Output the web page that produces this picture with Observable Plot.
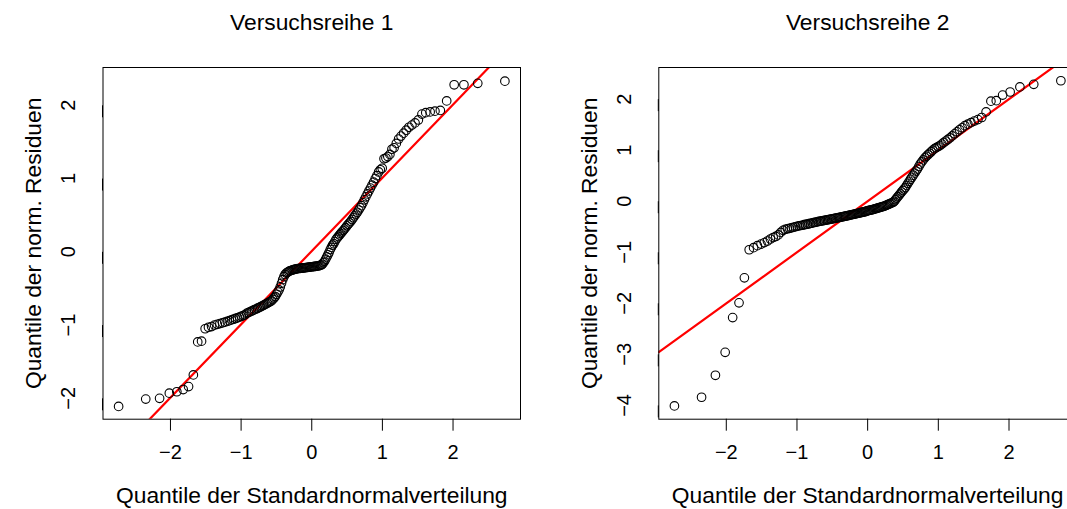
<!DOCTYPE html>
<html>
<head>
<meta charset="utf-8">
<script src="https://cdn.jsdelivr.net/npm/d3@7"></script>
<script src="https://cdn.jsdelivr.net/npm/@observablehq/plot@0.6"></script>
<style>
  html, body { margin: 0; padding: 0; background: #fff; overflow: hidden; }
  #wrap { position: relative; width: 1067px; height: 509px; overflow: hidden; }
  #p1, #p2 { position: absolute; top: 0; }
  #p1 { left: 0; width: 534px; }
  #p2 { left: 544px; width: 546px; }
  svg { max-width: none !important; font-family: "Liberation Sans", Arial, Helvetica, sans-serif; }
</style>
</head>
<body>
<div id="wrap"><div id="p1"></div><div id="p2"></div></div>
<script>
// Panel titles and axis labels
const panelTitles = ["Versuchsreihe 1", "Versuchsreihe 2"];
const xAxisLabel = "Quantile der Standardnormalverteilung";
const yAxisLabel = "Quantile der norm. Residuen";
const tickValues = [-2, -1, 0, 1, 2];
const yTicks2 = [-4, -3, -2, -1, 0, 1, 2];

// Theoretical normal quantiles for n = 160 (lower half; upper half is symmetric)
const theoreticalLower = [
  -2.734, -2.350, -2.154, -2.016, -1.910, -1.820, -1.744, -1.676, -1.614, -1.560,
  -1.509, -1.462, -1.418, -1.376, -1.337, -1.300, -1.264, -1.230, -1.197, -1.166,
  -1.135, -1.106, -1.077, -1.050, -1.023, -0.997, -0.971, -0.947, -0.922, -0.899,
  -0.876, -0.853, -0.831, -0.809, -0.787, -0.766, -0.745, -0.725, -0.704, -0.684,
  -0.665, -0.645, -0.626, -0.607, -0.589, -0.570, -0.552, -0.534, -0.516, -0.498,
  -0.480, -0.463, -0.446, -0.428, -0.411, -0.394, -0.377, -0.361, -0.344, -0.327,
  -0.311, -0.294, -0.278, -0.262, -0.245, -0.229, -0.213, -0.197, -0.181, -0.165,
  -0.149, -0.134, -0.118, -0.102, -0.086, -0.071, -0.055, -0.039, -0.024, -0.008
];
const theoreticalUpper = [
  0.008, 0.024, 0.039, 0.055, 0.071, 0.086, 0.102, 0.118, 0.134, 0.149,
  0.165, 0.181, 0.197, 0.213, 0.229, 0.245, 0.262, 0.278, 0.294, 0.311,
  0.327, 0.344, 0.361, 0.377, 0.394, 0.411, 0.428, 0.446, 0.463, 0.480,
  0.498, 0.516, 0.534, 0.552, 0.570, 0.589, 0.607, 0.626, 0.645, 0.665,
  0.684, 0.704, 0.725, 0.745, 0.766, 0.787, 0.809, 0.831, 0.853, 0.876,
  0.899, 0.922, 0.947, 0.971, 0.997, 1.023, 1.050, 1.077, 1.106, 1.135,
  1.166, 1.197, 1.230, 1.264, 1.300, 1.337, 1.376, 1.418, 1.462, 1.509,
  1.560, 1.614, 1.676, 1.744, 1.820, 1.910, 2.016, 2.154, 2.350, 2.734
];

// Sorted normalized residuals, series 1
const residuals1 = [
  -2.11, -2.01, -2.00, -1.93, -1.91, -1.88, -1.84, -1.68, -1.23, -1.22,
  -1.05, -1.03, -1.02, -1.00, -0.99, -0.98, -0.97, -0.96, -0.95, -0.94,
  -0.93, -0.92, -0.91, -0.90, -0.89, -0.88, -0.87, -0.86, -0.84, -0.83,
  -0.82, -0.81, -0.80, -0.79, -0.78, -0.77, -0.76, -0.75, -0.74, -0.73,
  -0.72, -0.71, -0.70, -0.69, -0.68, -0.67, -0.65, -0.63, -0.61, -0.58,
  -0.55, -0.52, -0.48, -0.43, -0.38, -0.34, -0.31, -0.29, -0.28, -0.27,
  -0.26, -0.255, -0.25, -0.245, -0.24, -0.235, -0.232, -0.23, -0.228, -0.226,
  -0.224, -0.222, -0.22, -0.218, -0.216, -0.214, -0.212, -0.21, -0.208, -0.206,
  -0.204, -0.202, -0.20, -0.198, -0.196, -0.194, -0.19, -0.185, -0.18, -0.17,
  -0.15, -0.13, -0.10, -0.07, -0.04, -0.01, 0.03, 0.06, 0.09, 0.11,
  0.14, 0.17, 0.19, 0.21, 0.23, 0.25, 0.27, 0.29, 0.31, 0.33,
  0.355, 0.375, 0.395, 0.415, 0.44, 0.465, 0.49, 0.515, 0.54, 0.57,
  0.60, 0.63, 0.67, 0.71, 0.75, 0.79, 0.83, 0.87, 0.91, 0.95,
  1.00, 1.04, 1.09, 1.12, 1.14, 1.27, 1.28, 1.30, 1.33, 1.40,
  1.42, 1.48, 1.54, 1.58, 1.62, 1.66, 1.70, 1.73, 1.76, 1.80,
  1.88, 1.90, 1.91, 1.92, 1.93, 2.06, 2.28, 2.28, 2.30, 2.33
];

// Sorted normalized residuals, series 2
const residuals2 = [
  -4.01, -3.84, -3.41, -2.96, -2.28, -1.99, -1.50, -0.95, -0.91, -0.87,
  -0.84, -0.81, -0.78, -0.74, -0.71, -0.69, -0.66, -0.61, -0.57, -0.55,
  -0.54, -0.53, -0.52, -0.51, -0.50, -0.49, -0.48, -0.475, -0.47, -0.46,
  -0.455, -0.45, -0.44, -0.435, -0.43, -0.42, -0.415, -0.41, -0.40, -0.395,
  -0.39, -0.385, -0.38, -0.375, -0.37, -0.365, -0.36, -0.355, -0.35, -0.345,
  -0.34, -0.335, -0.33, -0.325, -0.32, -0.315, -0.31, -0.305, -0.30, -0.295,
  -0.29, -0.285, -0.28, -0.275, -0.27, -0.265, -0.26, -0.255, -0.25, -0.245,
  -0.24, -0.235, -0.23, -0.225, -0.22, -0.215, -0.21, -0.205, -0.20, -0.19,
  -0.185, -0.18, -0.175, -0.17, -0.165, -0.16, -0.15, -0.145, -0.14, -0.13,
  -0.125, -0.12, -0.11, -0.105, -0.10, -0.09, -0.08, -0.07, -0.06, -0.05,
  -0.04, -0.03, -0.02, 0.00, 0.03, 0.06, 0.09, 0.12, 0.15, 0.18,
  0.21, 0.24, 0.27, 0.31, 0.35, 0.39, 0.43, 0.47, 0.51, 0.55,
  0.59, 0.63, 0.68, 0.73, 0.77, 0.81, 0.85, 0.88, 0.91, 0.94,
  0.97, 1.00, 1.03, 1.05, 1.07, 1.09, 1.12, 1.15, 1.18, 1.21,
  1.24, 1.28, 1.32, 1.36, 1.40, 1.44, 1.48, 1.51, 1.54, 1.57,
  1.60, 1.64, 1.75, 1.96, 1.97, 2.08, 2.14, 2.24, 2.29, 2.36
];

// Reference line (intercept, slope) per panel
const lineIntercepts = [0.01, 0.0];
const lineSlopes = [1.0, 1.0];

const theoretical = theoreticalLower.concat(theoreticalUpper);
const fmt = d => (d < 0 ? "\u2212" + Math.abs(d) : String(d));
const FONT = '"Liberation Sans", Arial, Helvetica, sans-serif';

function qqPanel(k, residuals, yDomain, yTicks, width, marginLeft) {
  const pts = residuals.map((r, i) => ({x: theoretical[i], y: r}));
  const xDomain = [-2.955, 2.955];
  const ln = xDomain.map(x => ({x, y: lineIntercepts[k] + lineSlopes[k] * x}));
  return Plot.plot({
    width, height: 509,
    marginLeft, marginRight: 14, marginTop: 67, marginBottom: 90.3,
    style: {fontFamily: FONT, background: "#fff", maxWidth: "none"},
    x: {domain: xDomain},
    y: {domain: yDomain},
    marks: [
      Plot.axisX({ticks: tickValues, tickFormat: fmt, tickSize: 12, tickPadding: 14, fontSize: 20, label: null, stroke: "#000", color: "#000"}),
      Plot.axisY({ticks: yTicks, tickFormat: fmt, tickSize: 12, tickPadding: 22, fontSize: 20, label: null, rotate: -90, textAnchor: "middle", lineAnchor: "middle", color: "#000"}),
      Plot.line(ln, {x: "x", y: "y", stroke: "#ff0000", strokeWidth: 2.2, clip: true}),
      Plot.dot(pts, {x: "x", y: "y", r: 4.3, stroke: "#000", fill: "none", strokeWidth: 1.1}),
      Plot.frame({stroke: "#000", strokeWidth: 1}),
      Plot.text([panelTitles[k]], {frameAnchor: "top", dy: -45, lineAnchor: "middle", textAnchor: "middle", fontSize: 22.8, fill: "#000"}),
      Plot.text([xAxisLabel], {frameAnchor: "bottom", dy: 77, lineAnchor: "middle", textAnchor: "middle", fontSize: 22.8, fill: "#000"}),
      Plot.text([yAxisLabel], {frameAnchor: "left", dx: -69, rotate: -90, lineAnchor: "middle", textAnchor: "middle", fontSize: 22.8, fill: "#000"})
    ]
  });
}

document.getElementById("p1").appendChild(qqPanel(0, residuals1, [-2.285, 2.516], tickValues, 534, 102.5));
document.getElementById("p2").appendChild(qqPanel(1, residuals2, [-4.27, 2.62], yTicks2, 546, 114.3));
</script>
</body>
</html>
